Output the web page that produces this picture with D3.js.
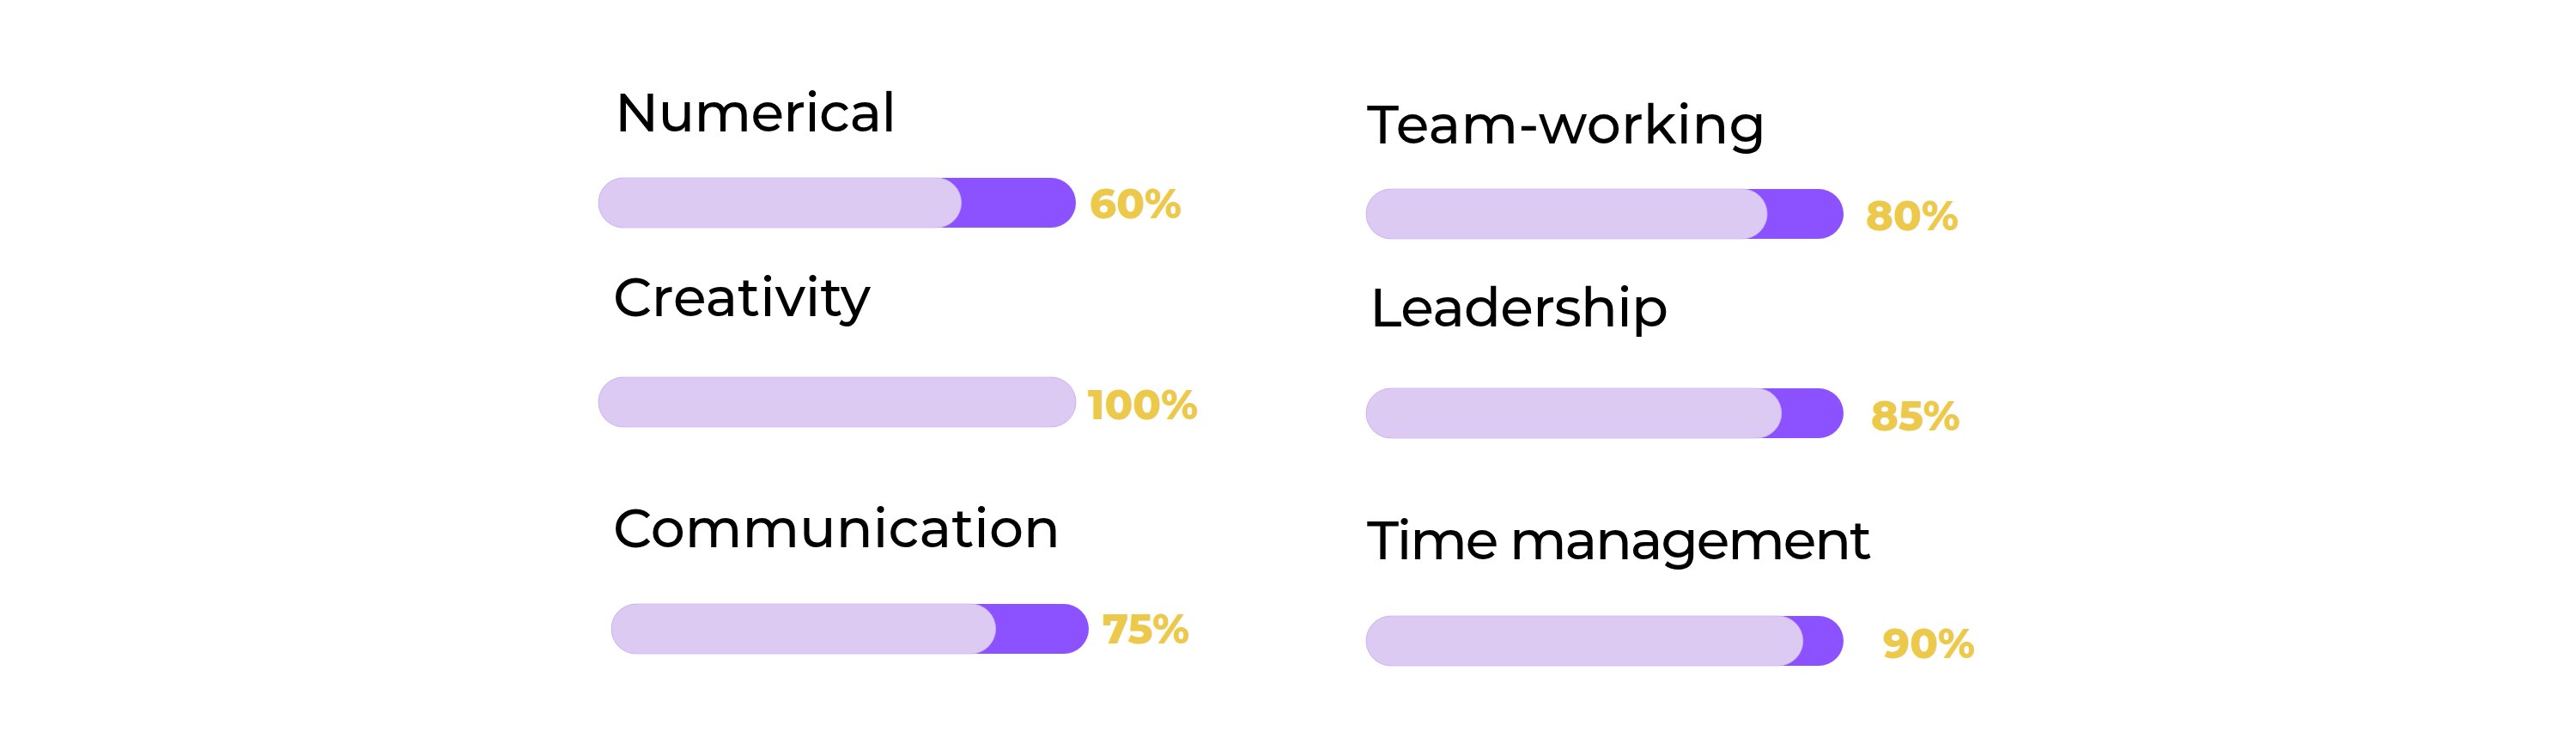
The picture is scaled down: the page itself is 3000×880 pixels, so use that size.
<!DOCTYPE html>
<html>
<head>
<meta charset="utf-8">
<script src="https://cdn.jsdelivr.net/npm/d3@7"></script>
<style>
  html, body { margin: 0; padding: 0; background: #ffffff; }
  svg { display: block; }
</style>
</head>
<body>
<svg id="chart" width="3000" height="880"></svg>
<script>
// ---- data ----
const skills = ["Numerical", "Creativity", "Communication", "Team-working", "Leadership", "Time management"];
const percentLabels = [60, 100, 75, 80, 85, 90];           // value printed next to each bar
const fillShares = [76, 100, 80.5, 84, 87, 91.5];          // light fill length as drawn (share of track)

// ---- layout (positions, kept apart from data) ----
const barLeft   = [697, 697, 712, 1591, 1591, 1591];
const barCenter = [236, 468, 732, 249, 481, 746];
const nameLeft  = [716, 714, 714, 1592, 1595, 1592];
const nameBase  = [153, 368, 637, 167, 380, 651];
const nameWidth = [328, 300, 521, 465, 348, 588];
const pctGap    = [16, 14, 16, 26, 32, 46];
const pctBase   = [254, 488, 749, 268, 501, 766];

const trackWidth = 556, barHeight = 58;
const colors = { track: "#8C52FF", fill: "#DCCAF2", fillEdge: "#CDB6F6", name: "#000000", pct: "#ECC94B" };

const svg = d3.select("#chart");
const x = d3.scaleLinear().domain([0, 100]).range([0, trackWidth]);

const data = skills.map((s, i) => ({ name: s, pct: percentLabels[i], fill: fillShares[i], i }));

const g = svg.selectAll("g.skill").data(data).join("g").attr("class", "skill");

// track (purple, full 100%)
g.append("rect")
  .attr("x", d => barLeft[d.i])
  .attr("y", d => barCenter[d.i] - barHeight / 2)
  .attr("width", x(100))
  .attr("height", barHeight)
  .attr("rx", barHeight / 2)
  .attr("fill", colors.track);

// light fill
g.append("rect")
  .attr("x", d => barLeft[d.i])
  .attr("y", d => barCenter[d.i] - barHeight / 2)
  .attr("width", d => x(d.fill))
  .attr("height", barHeight)
  .attr("rx", barHeight / 2)
  .attr("fill", colors.fill)
  .attr("stroke", colors.fillEdge)
  .attr("stroke-width", 0.8);

// skill names
g.append("text")
  .attr("x", d => nameLeft[d.i])
  .attr("y", d => nameBase[d.i])
  .attr("font-family", "Montserrat, Inter, 'Noto Sans', sans-serif")
  .attr("font-weight", 500)
  .attr("font-size", 63)
  .attr("textLength", d => nameWidth[d.i])
  .attr("lengthAdjust", "spacing")
  .attr("fill", colors.name)
  .text(d => d.name);

// percentage labels
g.append("text")
  .attr("x", d => barLeft[d.i] + x(100) + pctGap[d.i])
  .attr("y", d => pctBase[d.i])
  .attr("font-family", "Montserrat, Inter, 'Noto Sans', sans-serif")
  .attr("font-weight", 800)
  .attr("font-size", 48)
  .attr("fill", colors.pct)
  .text(d => d.pct + "%");
</script>
</body>
</html>
